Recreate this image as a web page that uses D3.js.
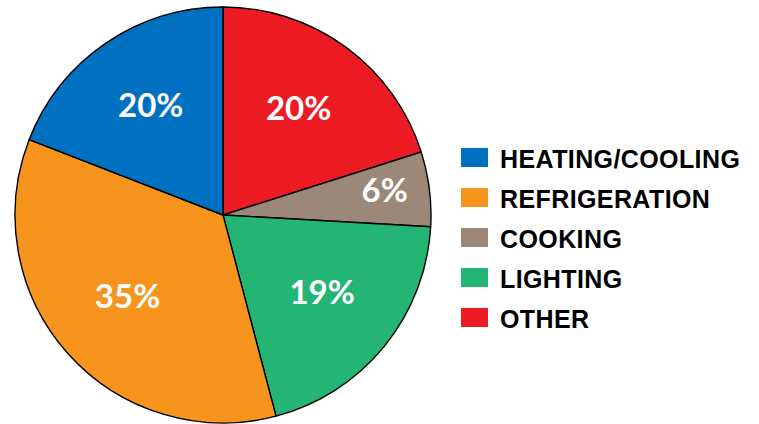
<!DOCTYPE html>
<html>
<head>
<meta charset="utf-8">
<script src="https://cdn.jsdelivr.net/npm/d3@7"></script>
<style>
  body { margin: 0; background: #fff; }
  svg { display: block; }
</style>
</head>
<body>
<script>
// slices in drawing order, clockwise from 12 o'clock
var sliceNames = ["OTHER", "COOKING", "LIGHTING", "REFRIGERATION", "HEATING/COOLING"];
var sliceShares = [20.1, 5.8, 20, 35, 19.1];
var sliceLabels = ["20%", "6%", "19%", "35%", "20%"];

var legendOrder = ["HEATING/COOLING", "REFRIGERATION", "COOKING", "LIGHTING", "OTHER"];
var colors = ["#ed1c24", "#9b8878", "#24b574", "#f7941e", "#0070c0"];

var width = 759, height = 424;
var cx = 223, cy = 215, radius = 208;

var color = d3.scaleOrdinal().domain(sliceNames).range(colors);

var svg = d3.select("body").append("svg")
    .attr("width", width).attr("height", height);

var pieGroup = svg.append("g")
    .attr("transform", "translate(" + cx + "," + cy + ")");

var pie = d3.pie().sort(null).value(d => d.value);
var arcs = pie(sliceNames.map((n, i) => ({name: n, value: sliceShares[i], label: sliceLabels[i]})));

var arc = d3.arc().innerRadius(0).outerRadius(radius);

pieGroup.selectAll("path")
    .data(arcs)
    .enter()
    .append("path")
    .attr("d", arc)
    .attr("fill", d => color(d.data.name))
    .attr("stroke", "#000")
    .attr("stroke-width", 1.4)
    .attr("stroke-linejoin", "round");

// small slices get their label pushed further out
var labelArc = d3.arc().innerRadius(128).outerRadius(128);
var labelArcOuter = d3.arc().innerRadius(163).outerRadius(163);

pieGroup.selectAll("text.pct")
    .data(arcs)
    .enter()
    .append("text")
    .attr("class", "pct")
    .attr("transform", d => {
        var c = (d.endAngle - d.startAngle) < 0.5 ? labelArcOuter.centroid(d) : labelArc.centroid(d);
        return "translate(" + c[0] + "," + (c[1] - 4) + ")";
    })
    .attr("text-anchor", "middle")
    .attr("dy", "0.36em")
    .attr("fill", "#fff")
    .attr("font-family", "Lato, 'Open Sans', sans-serif")
    .attr("font-weight", "bold")
    .attr("font-size", "33px")
    .text(d => d.data.label);

// Legend
var legend = svg.append("g").attr("transform", "translate(461,148)");
var rows = legend.selectAll("g")
    .data(legendOrder)
    .enter()
    .append("g")
    .attr("transform", (d, i) => "translate(0," + (i * 40) + ")");
rows.append("rect")
    .attr("width", 27)
    .attr("height", 19)
    .attr("fill", d => color(d));
rows.append("text")
    .attr("x", 39)
    .attr("y", 20)
    .attr("font-family", "'Liberation Sans', Arial, sans-serif")
    .attr("font-weight", "bold")
    .attr("font-size", "25px")
    .attr("letter-spacing", "0.4px")
    .attr("fill", "#000")
    .text(d => d);
</script>
</body>
</html>
